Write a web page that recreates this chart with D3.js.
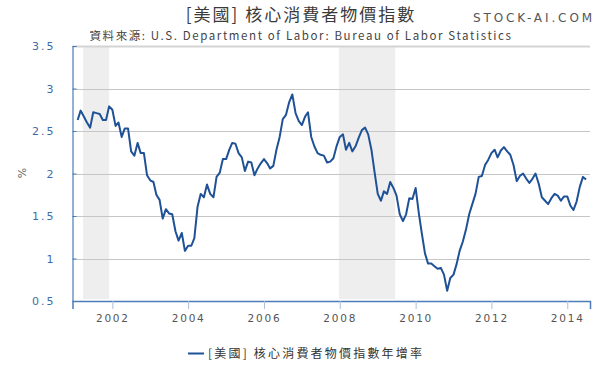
<!DOCTYPE html>
<html><head><meta charset="utf-8">
<script src="https://cdn.jsdelivr.net/npm/d3@7"></script>
<style>body{margin:0;background:#fff}svg{display:block}</style>
</head><body>
<svg id="c" width="600" height="371"></svg>
<script>
const startYear = 2001, startMonth = 0;
const values2001 = [2.63,2.74,2.67,2.60,2.54,2.72,2.71,2.70,2.63,2.63,2.79,2.75];
const values2002 = [2.56,2.60,2.43,2.53,2.53,2.26,2.21,2.36,2.24,2.24,1.98,1.92];
const values2003 = [1.90,1.75,1.69,1.47,1.58,1.53,1.52,1.32,1.21,1.30,1.09,1.15];
const values2004 = [1.15,1.24,1.61,1.76,1.72,1.87,1.76,1.72,1.96,2.01,2.17,2.17];
const values2005 = [2.28,2.36,2.35,2.24,2.19,2.03,2.14,2.13,1.98,2.06,2.12,2.17];
const values2006 = [2.12,2.06,2.09,2.28,2.43,2.64,2.69,2.84,2.93,2.71,2.62,2.57];
const values2007 = [2.67,2.72,2.43,2.32,2.24,2.22,2.21,2.13,2.14,2.18,2.32,2.43];
const values2008 = [2.46,2.28,2.36,2.26,2.32,2.42,2.51,2.54,2.46,2.28,2.02,1.76];
const values2009 = [1.68,1.79,1.76,1.90,1.83,1.74,1.52,1.44,1.52,1.71,1.70,1.83];
const values2010 = [1.53,1.30,1.06,0.94,0.94,0.91,0.88,0.89,0.81,0.62,0.77,0.81];
const values2011 = [0.94,1.09,1.20,1.34,1.52,1.64,1.76,1.96,1.97,2.10,2.16,2.24];
const values2012 = [2.28,2.19,2.27,2.31,2.26,2.22,2.10,1.91,1.97,2.00,1.94,1.89];
const values2013 = [1.94,2.00,1.88,1.72,1.68,1.64,1.71,1.76,1.74,1.68,1.73,1.73];
const values2014 = [1.62,1.57,1.67,1.84,1.96,1.93];
const yTicks = [0.5,1,1.5,2,2.5,3,3.5];
const xTickYears = [2002,2004,2006,2008,2010,2012,2014];
const recessions = [["2001-03-25","2001-12-01"],["2007-12-24","2009-06-18"]];
const titleText = "[美國] 核心消費者物價指數";
const subtitleText = "資料來源: U.S. Department of Labor: Bureau of Labor Statistics";
const brandText = "STOCK-AI.COM";
const legendText = "[美國] 核心消費者物價指數年增率";
const yAxisLabel = "%";

const allValues = [].concat(values2001,values2002,values2003,values2004,values2005,values2006,values2007,values2008,values2009,values2010,values2011,values2012,values2013,values2014);
// each monthly value is stamped at the end of its month
const data = allValues.map((v,i)=>({date:new Date(startYear, startMonth+i+1, 1), value:v}));

const svg = d3.select("#c");
const L=72.5, R=590, T=46, B=301;
const x = d3.scaleTime().domain([new Date(2000,11,13), new Date(2014,7,8)]).range([L,R]);
const y = d3.scaleLinear().domain([0.5,3.5]).range([B,T]);
const cjk = "'Noto Sans CJK TC','DejaVu Sans',sans-serif";
const lat = "'DejaVu Sans',sans-serif";

// recession bands
svg.append("g").selectAll("rect").data(recessions).join("rect")
  .attr("x",d=>x(new Date(d[0]))).attr("width",d=>x(new Date(d[1]))-x(new Date(d[0])))
  .attr("y",T+1).attr("height",B-T-3).attr("fill","#eeeeee");

// grid
svg.append("g").selectAll("line").data(yTicks.filter(t=>t>0.5)).join("line")
  .attr("x1",L).attr("x2",R).attr("y1",d=>Math.round(y(d))+0.5).attr("y2",d=>Math.round(y(d))+0.5)
  .attr("stroke",d=>d===3.5?"#d4d4d4":"#c6c6c6").attr("stroke-width",d=>d===3.5?2:1);

// y axis
const yAx = svg.append("g").attr("transform",`translate(${L},0)`)
  .call(d3.axisRight(y).tickValues(yTicks).tickSize(4).tickFormat(d3.format("")));
yAx.select(".domain").attr("stroke","#4d7cb8").attr("stroke-width",1.2);
yAx.selectAll(".tick line").attr("stroke","#4d7cb8");
yAx.selectAll(".tick text").attr("x",-17).attr("text-anchor","end").attr("fill","#3d6cab")
  .style("font-family",lat).style("font-size","11px").style("letter-spacing","2px");

// x axis
const xAx = svg.append("g").attr("transform",`translate(0,${B})`)
  .call(d3.axisBottom(x).tickValues(xTickYears.map(yr=>new Date(yr,0,1))).tickSize(8).tickFormat(d3.timeFormat("%Y")));
xAx.select(".domain").attr("stroke","#4d7cb8").attr("stroke-width",1.5);
xAx.selectAll(".tick line").attr("stroke","#a9c0dc");
xAx.selectAll(".tick text").attr("y",14).attr("fill","#555").style("font-family",lat)
  .style("font-size","10.5px").style("letter-spacing","1.8px");

// line
svg.append("path").datum(data).attr("fill","none").attr("stroke","#1f5197").attr("stroke-width",2)
  .attr("stroke-linejoin","round")
  .attr("d",d3.line().x(d=>x(d.date)).y(d=>y(d.value)));

// texts
svg.append("text").attr("x",301).attr("y",21).attr("text-anchor","middle").attr("fill","#3a3a3a")
  .style("font-family",cjk).style("font-size","17px").style("letter-spacing","2px").text(titleText);
svg.append("text").attr("x",595).attr("y",22).attr("text-anchor","end").attr("fill","#555")
  .style("font-family",lat).style("font-size","12px").style("letter-spacing","2.9px").text(brandText);
svg.append("text").attr("x",301).attr("y",40).attr("text-anchor","middle").attr("fill","#444")
  .style("font-family",cjk).style("font-size","11.5px").style("letter-spacing","1.6px").text(subtitleText);
svg.append("text").attr("transform","translate(26,173) rotate(-90)").attr("text-anchor","middle").attr("fill","#666")
  .style("font-family",lat).style("font-size","11px").text(yAxisLabel);

// legend
svg.append("line").attr("x1",188).attr("x2",204).attr("y1",353.5).attr("y2",353.5)
  .attr("stroke","#1f5197").attr("stroke-width",2);
svg.append("text").attr("x",208).attr("y",358).attr("fill","#333")
  .style("font-family",cjk).style("font-size","12px").style("letter-spacing","2.2px").text(legendText);
</script>
</body></html>
